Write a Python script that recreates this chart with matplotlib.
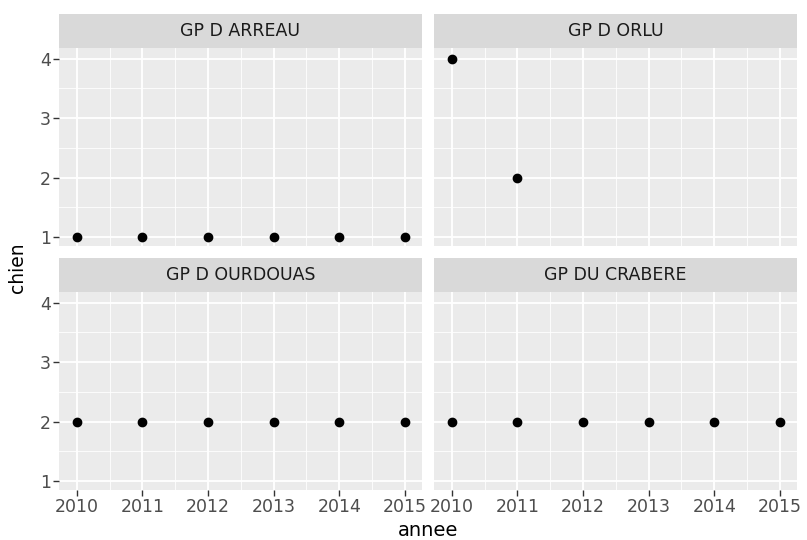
import matplotlib
matplotlib.use("Agg")
import matplotlib.pyplot as plt
from matplotlib.ticker import MultipleLocator

facets = ["GP D ARREAU", "GP D ORLU", "GP D OURDOUAS", "GP DU CRABERE"]
annee_arreau = [2010, 2011, 2012, 2013, 2014, 2015]
chien_arreau = [1, 1, 1, 1, 1, 1]
annee_orlu = [2010, 2011]
chien_orlu = [4, 2]
annee_ourdouas = [2010, 2011, 2012, 2013, 2014, 2015]
chien_ourdouas = [2, 2, 2, 2, 2, 2]
annee_crabere = [2010, 2011, 2012, 2013, 2014, 2015]
chien_crabere = [2, 2, 2, 2, 2, 2]
x_ticks = [2010, 2011, 2012, 2013, 2014, 2015]
y_ticks = [1, 2, 3, 4]

data = [(annee_arreau, chien_arreau), (annee_orlu, chien_orlu),
        (annee_ourdouas, chien_ourdouas), (annee_crabere, chien_crabere)]

plt.rcParams["font.family"] = ["DejaVu Sans"]

W, H = 807, 540
fig = plt.figure(figsize=(W / 100, H / 100), dpi=100)
fig.patch.set_facecolor("white")

lefts = [59, 434, 59, 434]
tops = [48, 48, 292, 292]
pw, ph = 363, 198
strip_h = 34

xlo, xhi = 2010 - 0.27, 2015 + 0.26
ylo, yhi = 1 - 0.15, 4 + 0.18

for i, (name, (xs, ys)) in enumerate(zip(facets, data)):
    l, t = lefts[i], tops[i]
    ax = fig.add_axes([l / W, 1 - (t + ph) / H, pw / W, ph / H])
    ax.set_facecolor("#EBEBEB")
    ax.set_xlim(xlo, xhi)
    ax.set_ylim(ylo, yhi)
    ax.set_xticks(x_ticks)
    ax.set_yticks(y_ticks)
    ax.xaxis.set_minor_locator(MultipleLocator(0.5))
    ax.yaxis.set_minor_locator(MultipleLocator(0.5))
    ax.grid(which="major", color="white", linewidth=1.3)
    ax.grid(which="minor", color="white", linewidth=0.6)
    ax.set_axisbelow(True)
    for s in ax.spines.values():
        s.set_visible(False)
    ax.tick_params(which="minor", length=0)
    ax.tick_params(which="major", length=4, width=1, color="#333333",
                   labelsize=12.5, labelcolor="#4D4D4D", pad=2)
    if i % 2 == 1:
        ax.tick_params(axis="y", which="major", length=0, labelleft=False)
    if i < 2:
        ax.tick_params(axis="x", which="major", length=0, labelbottom=False)
    ax.plot(xs, ys, "o", color="black", markersize=6, clip_on=False, zorder=3)

    # strip
    sax = fig.add_axes([l / W, 1 - t / H, pw / W, strip_h / H])
    sax.set_facecolor("#D9D9D9")
    sax.set_xticks([])
    sax.set_yticks([])
    for s in sax.spines.values():
        s.set_visible(False)
    sax.text(0.5, 0.5, name, ha="center", va="center", fontsize=12.5,
             color="#1A1A1A", transform=sax.transAxes)

fig.text(428 / W, 1 - 530 / H, "annee", ha="center", va="center",
         fontsize=14, color="black")
fig.text(18 / W, 1 - 268 / H, "chien", ha="center", va="center",
         fontsize=13.5, color="black", rotation=90)

fig.savefig("out.png", dpi=100, facecolor="white")
